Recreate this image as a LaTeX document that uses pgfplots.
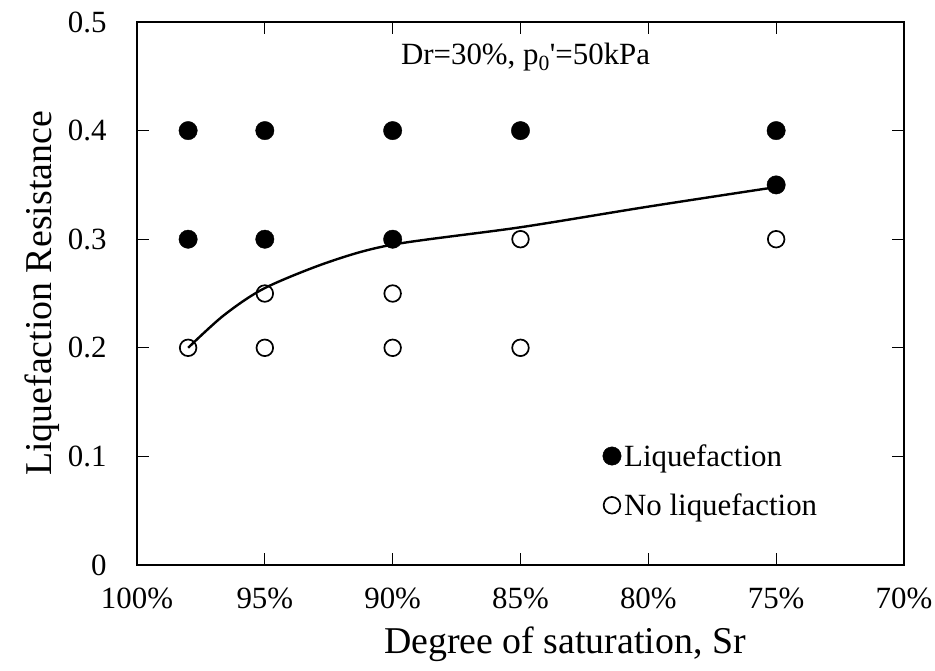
\documentclass[border=0pt]{standalone}
\usepackage{fontspec}
\setmainfont{Liberation Serif}[Ligatures=TeXOff]
\usepackage{pgfplots}
\pgfplotsset{compat=1.18}
\begin{document}
\begin{tikzpicture}
\begin{axis}[
  name=ax,
  scale only axis,
  width=767bp, height=543bp,
  x dir=reverse,
  xmin=70, xmax=100, ymin=0, ymax=0.5,
  xtick={70,75,80,85,90,95,100},
  ytick={0,0.1,0.2,0.3,0.4,0.5},
  xticklabel={\pgfmathprintnumber{\tick}\%},
  yticklabel style={/pgf/number format/fixed,/pgf/number format/precision=1},
  /pgf/number format/assume math mode=true,
  tick align=inside,
  major tick length=12bp,
  axis line style={line width=2bp},
  every tick/.style={line width=1.3bp, black},
  ticklabel style={font=\fontsize{31}{35}\selectfont},
  xticklabel style={yshift=-19bp},
  yticklabel style={xshift=-27bp},
  xlabel={Degree of saturation, Sr},
  ylabel={Liquefaction Resistance},
  label style={font=\fontsize{38}{43}\selectfont},
  xlabel style={at={(axis description cs:0.558,-0.108)}, anchor=north},
  ylabel style={at={(axis description cs:-0.0965,0.5)}, anchor=south},
  legend style={at={(0.607,0.228)}, anchor=north west, draw=none, fill=none,
    font=\fontsize{31}{35}\selectfont, row sep=20bp, inner sep=0pt,
    nodes={inner sep=3bp}},
  legend image code/.code={\draw[#1] plot coordinates {(9bp,0bp)};},
  legend cell align=left,
]
\addplot[forget plot, smooth, line width=2.4bp, black] coordinates {
  (98,0.2) (96.6,0.23) (95,0.255) (92.5,0.279) (90,0.295) (85,0.311) (80,0.330) (75,0.348)
};
\addplot[only marks, mark=*, mark size=9.2bp, mark options={fill=black, draw=black}] coordinates {
  (98,0.4) (95,0.4) (90,0.4) (85,0.4) (75,0.4)
  (98,0.3) (95,0.3) (90,0.3) (75,0.35)
};
\addlegendentry{Liquefaction}
\addplot[only marks, mark=o, mark size=8.3bp, mark options={line width=1.7bp, draw=black, fill=white}] coordinates {
  (98,0.2) (95,0.25) (95,0.2) (90,0.25) (90,0.2) (85,0.3) (85,0.2) (75,0.3)
};
\addlegendentry{No liquefaction}
\node[font=\fontsize{31}{35}\selectfont] at (axis cs:84.8,0.468) {Dr=30\%, p\textsubscript{0}'=50kPa};
\coordinate (bl) at (axis description cs:-0.17862,-0.19337);
\coordinate (tr) at (axis description cs:1.04042,1.04052);
\end{axis}
\pgfresetboundingbox
\path[use as bounding box] (bl) rectangle (tr);
\end{tikzpicture}
\end{document}
